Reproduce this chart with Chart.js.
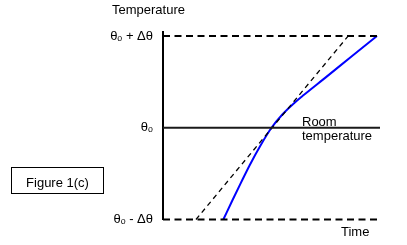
<!DOCTYPE html>
<html>
<head>
<meta charset="utf-8">
<script src="https://cdn.jsdelivr.net/npm/chart.js@4"></script>
<style>
  html, body { margin: 0; padding: 0; background: #fff; }
  #wrap { width: 407px; height: 245px; }
</style>
</head>
<body>
<div id="wrap"><canvas id="fig"></canvas></div>
<script>
// nivåer på temperaturaxeln
const levelTicks = [-1, 0, 1];
const levelLabels = ['θₒ - Δθ', 'θₒ', 'θₒ + Δθ'];

// blå kurvan (tid, temperatur)
const curveTime = [27.8, 32, 36, 40, 45, 50, 55, 60, 65, 75, 87, 98.6];
const curveTemp = [-1, -0.79, -0.595, -0.405, -0.19, 0, 0.145, 0.26, 0.36, 0.55, 0.78, 1];

// streckad tangent
const tangentTime = [15.2, 85.3];
const tangentTemp = [-1, 1];

// horisontella linjer
const limitTime = [0, 99];
const roomTime = [0, 100];

const font = 'Liberation Sans, Arial, sans-serif';

function pts(xs, ys) {
    return xs.map((x, i) => ({ x: x, y: ys[i] }));
}

// ritar texterna runt diagrammet
const textPlugin = {
    id: 'texter',
    afterDraw(chart) {
        const c = chart.ctx;
        c.save();
        c.fillStyle = '#000';
        c.font = '13px ' + font;
        c.textBaseline = 'alphabetic';
        c.textAlign = 'left';
        c.fillText('Temperature', 112, 13.5);
        c.fillText('Room', 302, 126);
        c.fillText('temperature', 302, 139.5);
        c.fillText('Time', 341, 236);
        // rutan med figurnamnet
        c.strokeStyle = '#000';
        c.lineWidth = 1;
        c.strokeRect(11.5, 167.5, 92, 26);
        c.textAlign = 'center';
        c.fillText('Figure 1(c)', 57.5, 186.5);
        c.restore();
    }
};

new Chart(document.getElementById('fig'), {
    type: 'line',
    data: {
        datasets: [
            {
                data: pts(limitTime, [1, 1]),
                borderColor: '#000', borderWidth: 2, borderDash: [7, 4.5],
                pointRadius: 0, clip: false
            },
            {
                data: pts(limitTime, [-1, -1]),
                borderColor: '#000', borderWidth: 2, borderDash: [7, 4.5],
                pointRadius: 0, clip: false
            },
            {
                data: pts(roomTime, [0, 0]),
                borderColor: '#1a1a1a', borderWidth: 2,
                pointRadius: 0, clip: false
            },
            {
                data: pts(tangentTime, tangentTemp),
                borderColor: '#000', borderWidth: 1.3, borderDash: [5, 4],
                pointRadius: 0, clip: false
            },
            {
                data: pts(curveTime, curveTemp),
                borderColor: '#0000ff', borderWidth: 2,
                cubicInterpolationMode: 'monotone',
                pointRadius: 0, clip: false
            }
        ]
    },
    options: {
        responsive: true,
        maintainAspectRatio: false,
        animation: false,
        layout: { padding: { left: 0, right: 27, top: 31.5, bottom: 25.5 } },
        plugins: {
            legend: { display: false },
            tooltip: { enabled: false }
        },
        scales: {
            x: {
                type: 'linear',
                min: 0,
                max: 100,
                display: false
            },
            y: {
                type: 'linear',
                min: -1,
                max: 1.05,
                afterFit: s => { s.width = 163; },
                afterBuildTicks: s => { s.ticks = levelTicks.map(v => ({ value: v })); },
                grid: { display: false, drawTicks: false },
                border: { display: true, color: '#000', width: 2 },
                ticks: {
                    padding: 10,
                    color: '#000',
                    font: { family: font, size: 13 },
                    callback: v => levelLabels[levelTicks.indexOf(v)]
                }
            }
        }
    },
    plugins: [textPlugin]
});
</script>
</body>
</html>
